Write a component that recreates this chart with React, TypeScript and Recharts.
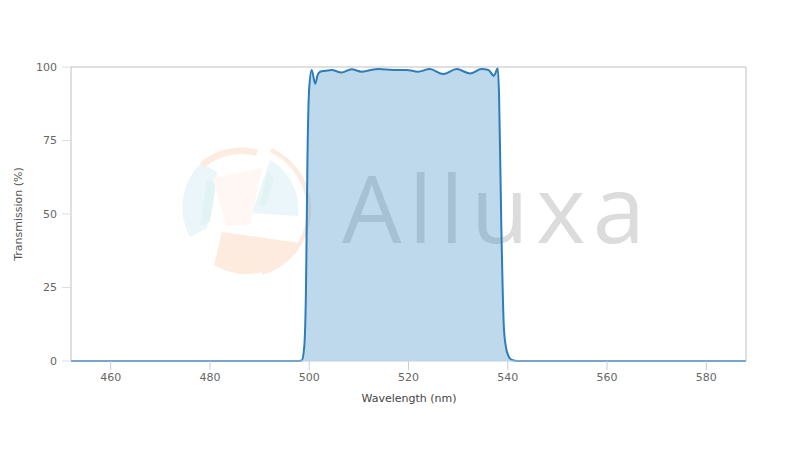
import React from 'react';
import { AreaChart, Area, XAxis, YAxis, ReferenceLine } from 'recharts';

// wavelength (nm) and transmission (%)
const wavelength = [
  452, 460, 470, 480, 490, 495, 498, 498.5, 499.0, 499.35, 499.65, 500.0, 500.5, 501.2, 501.7,
  502.2, 503.3, 504.5, 506.5, 508.5, 510.6, 512.2, 513.9, 517.0, 519.6, 521.9, 524.3, 527.0, 529.7,
  532.4, 534.7, 536.1, 537.2, 538.0, 538.25, 538.7, 539.2, 539.6, 540.2, 540.8, 542, 550, 560, 570, 580, 588,
];
const transmission = [
  0, 0, 0, 0, 0, 0, 0, 0.2, 5, 25, 70, 93, 99.0, 94.3, 97.3,
  98.4, 98.7, 99.0, 98.1, 99.2, 98.4, 98.9, 99.3, 99.0, 99.0, 98.4, 99.3, 97.6, 99.3,
  97.8, 99.3, 99.0, 97.0, 99.6, 90, 46, 12, 5, 1.5, 0.4, 0, 0, 0, 0, 0, 0,
];
const xTicks = [460, 480, 500, 520, 540, 560, 580];
const yTicks = [0, 25, 50, 75, 100];

const data = wavelength.map((nm, i) => ({ nm, t: transmission[i] }));

const font = '"DejaVu Sans", Verdana, sans-serif';

const YTitle = () => (
  <text x={18} y={214} transform="rotate(-90 18 214)" textAnchor="middle" dominantBaseline="central"
    fontFamily={font} fontSize={11} fill="#555">
    Transmission (%)
  </text>
);

const XTitle = () => (
  <text x={409} y={398} textAnchor="middle" dominantBaseline="central" fontFamily={font} fontSize={11} fill="#444">
    Wavelength (nm)
  </text>
);

// faint logo watermark sitting behind the plot
function Watermark() {
  return (
    <svg width={800} height={450} style={{ position: 'absolute', left: 0, top: 0 }}>
      <g opacity={0.75}>
        <path d="M 201 163 L 217 172 L 207 228 L 190 237 A 62 62 0 0 1 201 163 Z" fill="#e4f3f9" />
        <path d="M 207 180 L 216 184 L 210 222 L 200 226 Z" fill="#d9efef" />
        <path d="M 252 213 L 270 160 A 57 57 0 0 1 298 216 Z" fill="#e4f3f9" />
        <path d="M 259 205 L 268 172 L 274 180 L 266 206 Z" fill="#d9efef" />
        <path d="M 200 163 A 62 62 0 0 1 258 150 L 256 156 A 56 56 0 0 0 204 168 Z" fill="#fce5d3" />
        <path d="M 213 178 L 262 168 L 250 225 L 226 226 Z" fill="#fef5f0" />
        <path d="M 222 232 L 300 243 A 62 62 0 0 1 214 265 Z" fill="#fce5d3" />
        <path d="M 272 148 A 68 68 0 0 1 262 275 L 262 271 A 64 64 0 0 0 270 152 Z" fill="#fce5d3" />
      </g>
      <text x={342} y={243} textLength={303} lengthAdjust="spacing" fontFamily='"Open Sans", sans-serif'
        fontWeight={400} fontSize={94} fill="#dcdcdc">
        Alluxa
      </text>
    </svg>
  );
}

export default function App() {
  return (
    <div style={{ position: 'relative', width: 800, height: 450, background: '#fff' }}>
      <style>{'body{margin:0}'}</style>
      <Watermark />
      <AreaChart width={800} height={450} data={data} margin={{ top: 67, right: 54, left: 11, bottom: 59 }}>
        <XAxis
          dataKey="nm"
          type="number"
          domain={[452, 588]}
          allowDataOverflow
          ticks={xTicks}
          tickSize={9}
          tickMargin={3}
          height={30}
          stroke="#c0d0e0"
          tick={{ fill: '#666', fontSize: 11, fontFamily: font }}
          label={<XTitle />}
        />
        <YAxis
          type="number"
          domain={[0, 100]}
          ticks={yTicks}
          width={60}
          tickSize={9}
          tickMargin={5}
          axisLine={{ stroke: '#c0c0c0' }}
          tickLine={{ stroke: '#d8dee6' }}
          tick={{ fill: '#666', fontSize: 11, fontFamily: font }}
          label={<YTitle />}
        />
        <ReferenceLine y={100} stroke="#c0c0c0" />
        <ReferenceLine x={588} stroke="#c0c0c0" />
        <Area
          type="monotone"
          dataKey="t"
          stroke="#2d7db9"
          strokeWidth={2}
          fill="#3d8bc4"
          fillOpacity={0.33}
          dot={false}
          activeDot={false}
          isAnimationActive={false}
        />
      </AreaChart>
    </div>
  );
}
